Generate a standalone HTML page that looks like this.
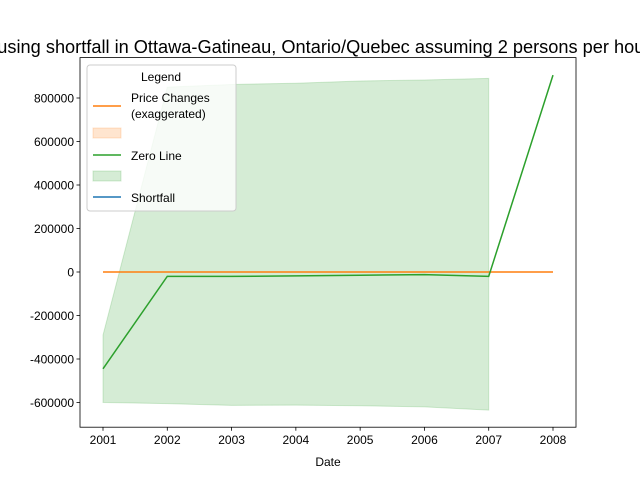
<!DOCTYPE html>
<html><head><meta charset="utf-8"><style>body{margin:0;background:#fff;overflow:hidden}svg{display:block;font-family:"Liberation Sans","DejaVu Sans",sans-serif}</style></head>
<body>
<svg id="chart" width="640" height="480" xmlns="http://www.w3.org/2000/svg">
<text x="336" y="53" font-size="18.2" text-anchor="middle">Housing shortfall in Ottawa-Gatineau, Ontario/Quebec assuming 2 persons per household</text>
<g id="plot"></g>
</svg>
<script>
const years=[2001,2002,2003,2004,2005,2006,2007,2008];
const zeroLine=[-445000,-20000,-20000,-18000,-15000,-12000,-20000,905000];
const priceChanges=[0,0,0,0,0,0,0,0];
const bandYears=[2001,2002,2003,2004,2005,2006,2007];
const bandUpper=[-290000,850000,862000,868000,878000,883000,890000];
const bandLower=[-600000,-605000,-613000,-612000,-615000,-620000,-635000];
const yTicks=[-600000,-400000,-200000,0,200000,400000,600000,800000];
const L=80,R=576,T=57.6,B=427.2;
const x=v=>103+(v-2001)*(553-103)/7;
const y=v=>272-v*43.5/200000;
const NS="http://www.w3.org/2000/svg";
const g=document.getElementById('plot');
function el(t,a,txt){const e=document.createElementNS(NS,t);for(const k in a)e.setAttribute(k,a[k]);if(txt!==undefined)e.textContent=txt;g.appendChild(e);return e;}
let d=bandYears.map((v,i)=>(i?'L':'M')+x(v)+','+y(bandUpper[i])).join('');
for(let i=bandYears.length-1;i>=0;i--)d+='L'+x(bandYears[i])+','+y(bandLower[i]);
let e=el('path',{d:d+'Z',fill:'#2ca02c','fill-opacity':0.2,stroke:'#2ca02c','stroke-opacity':0.2});


e=el('polyline',{points:years.map((v,i)=>x(v)+','+y(priceChanges[i])).join(' '),fill:'none',stroke:'#ff7f0e','stroke-width':1.5});


e=el('polyline',{points:years.map((v,i)=>x(v)+','+y(zeroLine[i])).join(' '),fill:'none',stroke:'#2ca02c','stroke-width':1.5});


e=el('rect',{x:L,y:T,width:R-L,height:B-T,fill:'none',stroke:'#000','stroke-width':0.8});


years.forEach(v=>{
 el('line',{x1:x(v),x2:x(v),y1:B,y2:B+3.5,stroke:'#000','stroke-width':0.8});
 const t=el('text',{x:x(v),y:B+17,'font-size':12,'text-anchor':'middle'},String(v));
 
 
});
yTicks.forEach(v=>{
 el('line',{x1:L-3.5,x2:L,y1:y(v),y2:y(v),stroke:'#000','stroke-width':0.8});
 const t=el('text',{x:L-6,y:y(v)+4.5,'font-size':12,'text-anchor':'end'},String(v));
 
 
});
e=el('text',{x:328,y:466,'font-size':12,'text-anchor':'middle'},'Date');


e=el('rect',{x:87,y:65,width:149,height:146,rx:3,fill:'#fff','fill-opacity':0.8,stroke:'#ccc'});


el('text',{x:161,y:81,'font-size':12,'text-anchor':'middle'},'Legend');
el('line',{x1:93,x2:121,y1:106,y2:106,stroke:'#ff7f0e','stroke-width':1.5});
el('text',{x:131,y:102,'font-size':12},'Price Changes');
el('text',{x:131,y:118,'font-size':12},'(exaggerated)');
el('rect',{x:93,y:128,width:28,height:10,fill:'#ff7f0e','fill-opacity':0.2,stroke:'#ff7f0e','stroke-opacity':0.2});
el('line',{x1:93,x2:121,y1:155,y2:155,stroke:'#2ca02c','stroke-width':1.5});
el('text',{x:131,y:160,'font-size':12},'Zero Line');
el('rect',{x:93,y:171,width:28,height:10,fill:'#2ca02c','fill-opacity':0.2,stroke:'#2ca02c','stroke-opacity':0.2});
el('line',{x1:93,x2:121,y1:197,y2:197,stroke:'#1f77b4','stroke-width':1.5});
el('text',{x:131,y:202,'font-size':12},'Shortfall');
</script>
</body></html>
